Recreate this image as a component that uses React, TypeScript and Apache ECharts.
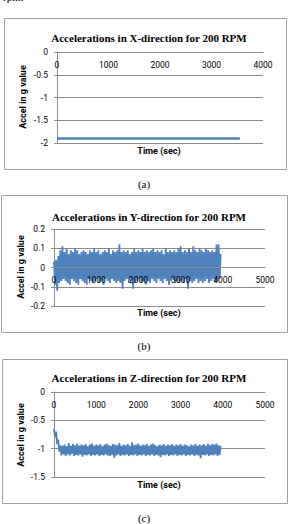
import React, { useEffect, useRef } from "react";
import * as echarts from "echarts";

// ---- data ----
const titles = [
  "Accelerations in X-direction for 200 RPM",
  "Accelerations in Y-direction for 200 RPM",
  "Accelerations in Z-direction for 200 RPM",
];
const captions = ["(a)", "(b)", "(c)"];
const yAxisTitle = "Accel in g value";
const xAxisTitle = "Time (sec)";

// X-direction: flat trace
const xAccelTime = [0, 3550];
const xAccelValues = [-1.9, -1.9];

// Y and Z traces sampled every 25 s from 0 to 3950 s
const sampleStepSec = 25;
const yAccelValues = [
  0.03, -0.09, 0.04, -0.12, 0.06, -0.08, 0.09, -0.07, 0.11, -0.06,
  0.08, -0.07, 0.10, -0.08, 0.07, -0.09, 0.09, -0.06, 0.08, -0.07,
  0.10, -0.08, 0.09, -0.09, 0.07, -0.06, 0.08, -0.07, 0.09, -0.08,
  0.08, -0.09, 0.07, -0.06, 0.09, -0.07, 0.08, -0.08, 0.10, -0.07,
  0.08, -0.06, 0.09, -0.08, 0.07, -0.07, 0.08, -0.09, 0.09, -0.06,
  0.08, -0.07, 0.10, -0.08, 0.07, -0.06, 0.09, -0.07, 0.08, -0.08,
  0.09, -0.07, 0.12, -0.08, 0.08, -0.11, 0.09, -0.07, 0.08, -0.06,
  0.09, -0.08, 0.07, -0.07, 0.08, -0.11, 0.10, -0.08, 0.08, -0.07,
  0.09, -0.06, 0.08, -0.08, 0.10, -0.07, 0.08, -0.09, 0.09, -0.07,
  0.08, -0.08, 0.09, -0.06, 0.10, -0.07, 0.08, -0.08, 0.09, -0.06,
  0.08, -0.07, 0.09, -0.08, 0.07, -0.06, 0.10, -0.07, 0.08, -0.09,
  0.09, -0.07, 0.08, -0.06, 0.09, -0.08, 0.08, -0.07, 0.10, -0.08,
  0.11, -0.07, 0.08, -0.08, 0.09, -0.06, 0.08, -0.11, 0.10, -0.07,
  0.08, -0.08, 0.11, -0.07, 0.09, -0.06, 0.08, -0.08, 0.10, -0.07,
  0.09, -0.08, 0.08, -0.07, 0.10, -0.06, 0.09, -0.08, 0.08, -0.07,
  0.09, -0.06, 0.08, -0.08, 0.12, -0.07, 0.12, -0.06, 0.07,
];
const zAccelValues = [
  -0.65, -0.80, -0.70, -0.92, -0.84, -1.05, -0.94, -1.12, -0.95, -1.10,
  -0.93, -1.13, -0.96, -1.10, -0.90, -1.12, -0.95, -1.09, -0.92, -1.13,
  -0.94, -1.11, -0.91, -1.12, -0.95, -1.10, -0.93, -1.14, -0.94, -1.11,
  -0.92, -1.12, -0.96, -1.10, -0.93, -1.13, -0.91, -1.11, -0.95, -1.12,
  -0.93, -1.10, -0.94, -1.13, -0.92, -1.11, -0.96, -1.12, -0.93, -1.10,
  -0.91, -1.12, -0.94, -1.13, -0.95, -1.11, -0.92, -1.16, -0.93, -1.12,
  -0.94, -1.10, -0.90, -1.13, -0.95, -1.11, -0.93, -1.12, -0.94, -1.10,
  -0.92, -1.13, -0.95, -1.11, -0.89, -1.12, -0.94, -1.10, -0.93, -1.13,
  -0.91, -1.11, -0.95, -1.12, -0.93, -1.10, -0.94, -1.13, -0.92, -1.11,
  -0.95, -1.12, -0.93, -1.10, -0.91, -1.13, -0.94, -1.11, -0.96, -1.12,
  -0.93, -1.15, -0.94, -1.11, -0.92, -1.12, -0.95, -1.10, -0.93, -1.13,
  -0.94, -1.11, -0.92, -1.12, -0.95, -1.10, -0.93, -1.13, -0.94, -1.11,
  -0.92, -1.12, -0.95, -1.10, -0.93, -1.13, -0.94, -1.11, -0.96, -1.12,
  -0.93, -1.10, -0.94, -1.13, -0.92, -1.11, -0.95, -1.12, -0.93, -1.17,
  -0.94, -1.11, -0.92, -1.12, -0.95, -1.10, -0.91, -1.13, -0.94, -1.11,
  -0.92, -1.12, -0.93, -1.10, -0.91, -1.13, -0.94, -1.11, -0.95,
];

const yRanges = [
  { min: -2, max: 0, interval: 0.5 },
  { min: -0.2, max: 0.2, interval: 0.1 },
  { min: -1.5, max: 0, interval: 0.5 },
];
const xRanges = [
  { min: 0, max: 4000, interval: 1000 },
  { min: 0, max: 5000, interval: 1000 },
  { min: 0, max: 5000, interval: 1000 },
];

// ---- layout / style ----
const W = 289;
const H = 524;
const grids = [
  { left: 57, right: 26, top: 52, height: 91 },
  { left: 54, right: 24, top: 229, height: 77 },
  { left: 54, right: 24, top: 392, height: 85 },
];
// where the time axis sits (zero of the value axis)
const xAxisPlacement = [
  { position: "top", offset: 0, inside: true },
  { position: "bottom", offset: -38.5, inside: false },
  { position: "top", offset: 0, inside: true },
];
const boxes = [
  { x: 4.5, y: 18.5, w: 282, h: 151 },
  { x: 1.5, y: 195.5, w: 286, h: 137 },
  { x: 2.5, y: 359.5, w: 285, h: 144 },
];
const titleY = [27, 206, 367];
const timeLabelY = [151, 313, 485];
const yTitlePos = [
  { x: 23, y: 97 },
  { x: 21, y: 267 },
  { x: 21, y: 435 },
];
const captionY = [184, 346, 518];
const lineColor = "#4f81bd";
const gridColor = "#8c8c8c";
const sansFont = "Roboto";
const serifFont = "Liberation Serif";

export default function App() {
  const ref = useRef<HTMLDivElement>(null);

  useEffect(() => {
    if (!ref.current) return;
    const chart = echarts.init(ref.current, undefined, { renderer: "svg" });

    const seriesData = [
      xAccelTime.map((t, i) => [t, xAccelValues[i]]),
      yAccelValues.map((v, i) => [i * sampleStepSec, v]),
      zAccelValues.map((v, i) => [i * sampleStepSec, v]),
    ];

    const option: any = {
      animation: false,
      backgroundColor: "#ffffff",
      title: titles.map((t, i) => ({
        text: t,
        left: 144,
        textAlign: "center",
        top: titleY[i],
        textStyle: {
          fontFamily: serifFont,
          fontWeight: "bold",
          fontSize: 11,
          color: "#000",
        },
      })),
      grid: grids.map((g) => ({ ...g })),
      xAxis: xRanges.map((r, i) => ({
        type: "value",
        gridIndex: i,
        min: r.min,
        max: r.max,
        interval: r.interval,
        position: xAxisPlacement[i].position,
        offset: xAxisPlacement[i].offset,
        z: 5,
        axisLine: { show: true, onZero: false, lineStyle: { color: gridColor, width: 1 } },
        axisTick: { show: false },
        splitLine: { show: false },
        axisLabel: {
          inside: xAxisPlacement[i].inside,
          margin: 8,
          fontFamily: sansFont,
          fontSize: 8.5,
          color: "#000",
          showMinLabel: true,
          showMaxLabel: true,
          hideOverlap: false,
          formatter: (v: number) => String(v),
        },
      })),
      yAxis: yRanges.map((r, i) => ({
        type: "value",
        gridIndex: i,
        min: r.min,
        max: r.max,
        interval: r.interval,
        axisLine: { show: true, onZero: false, lineStyle: { color: gridColor, width: 1 } },
        axisTick: { show: true, length: 3, lineStyle: { color: gridColor } },
        splitLine: { show: true, lineStyle: { color: gridColor, width: 1 } },
        axisLabel: {
          margin: 9,
          fontFamily: sansFont,
          fontSize: 8.5,
          color: "#000",
        },
      })),
      series: seriesData.map((d, i) => ({
        type: "line",
        xAxisIndex: i,
        yAxisIndex: i,
        data: d,
        showSymbol: false,
        symbol: "none",
        lineStyle: { color: lineColor, width: i === 0 ? 2.5 : 1.8 },
        itemStyle: { color: lineColor },
        z: 2,
      })),
      graphic: [
        ...boxes.map((b) => ({
          type: "rect",
          shape: { x: b.x, y: b.y, width: b.w, height: b.h },
          style: { fill: "none", stroke: "#a0a0a0", lineWidth: 1 },
          silent: true,
        })),
        ...yTitlePos.map((p) => ({
          type: "text",
          x: p.x,
          y: p.y,
          rotation: Math.PI / 2,
          style: {
            text: yAxisTitle,
            fontFamily: sansFont,
            fontWeight: "bold",
            fontSize: 9,
            fill: "#000",
            textAlign: "center",
            textVerticalAlign: "middle",
          },
        })),
        ...timeLabelY.map((y) => ({
          type: "text",
          x: 159,
          y,
          style: {
            text: xAxisTitle,
            fontFamily: sansFont,
            fontWeight: "bold",
            fontSize: 9,
            fill: "#000",
            textAlign: "center",
            textVerticalAlign: "middle",
          },
        })),
        ...captions.map((c, i) => ({
          type: "text",
          x: 144,
          y: captionY[i],
          style: {
            text: c,
            fontFamily: serifFont,
            fontSize: 11,
            fill: "#000",
            textAlign: "center",
            textVerticalAlign: "middle",
          },
        })),
        {
          type: "text",
          x: 3,
          y: -3,
          style: {
            text: "rpm.",
            fontFamily: serifFont,
            fontSize: 11,
            fill: "#000",
            textAlign: "left",
            textVerticalAlign: "middle",
          },
        },
      ],
    };

    chart.setOption(option);
    return () => chart.dispose();
  }, []);

  return (
    <div
      ref={ref}
      style={{ position: "absolute", left: 0, top: 0, width: W, height: H }}
    />
  );
}
